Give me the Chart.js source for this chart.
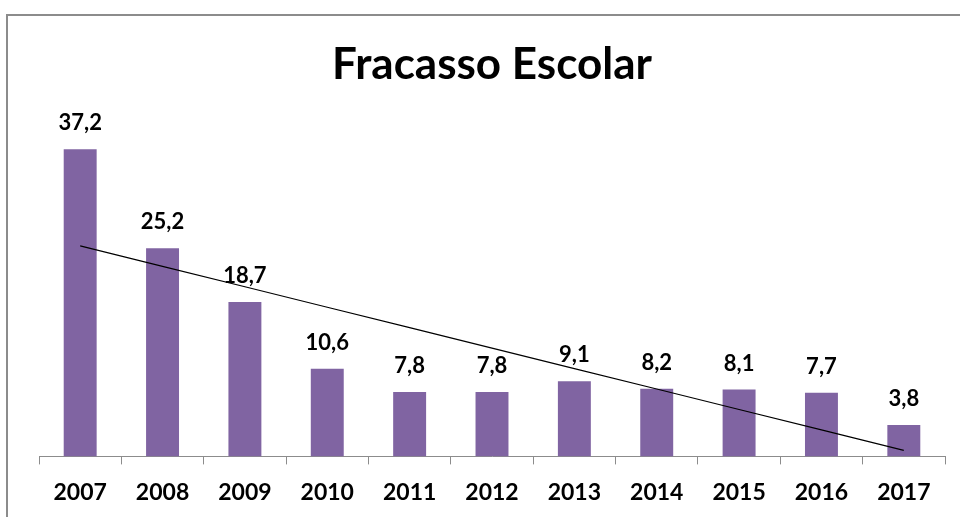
<!DOCTYPE html>
<html>
<head>
<meta charset="utf-8">
<script src="https://cdn.jsdelivr.net/npm/chart.js@4/dist/chart.umd.min.js"></script>
<style>
  html, body { margin: 0; padding: 0; background: #fff; }
  #wrap { width: 960px; height: 517px; position: relative; }
</style>
</head>
<body>
<div id="wrap"><canvas id="c" width="960" height="517"></canvas></div>
<script>
const categories = ['2007','2008','2009','2010','2011','2012','2013','2014','2015','2016','2017'];
const fracassoValues = [37.2, 25.2, 18.7, 10.6, 7.8, 7.8, 9.1, 8.2, 8.1, 7.7, 3.8];
const chartTitle = 'Fracasso Escolar';

// Linear trendline (least squares) computed from the series, as Excel does
function linearTrend(vals) {
  const n = vals.length;
  let sx = 0, sy = 0, sxy = 0, sxx = 0;
  vals.forEach((v, i) => { const x = i + 1; sx += x; sy += v; sxy += x * v; sxx += x * x; });
  const slope = (n * sxy - sx * sy) / (n * sxx - sx * sx);
  const intercept = (sy - slope * sx) / n;
  return vals.map((_, i) => intercept + slope * (i + 1));
}
const trendValues = linearTrend(fracassoValues);

const FONT = 'Lato, "Open Sans", sans-serif';

const borderPlugin = {
  id: 'outerBorder',
  beforeDraw(chart) {
    const ctx = chart.ctx;
    ctx.save();
    ctx.fillStyle = '#fff';
    ctx.fillRect(0, 0, chart.width, chart.height);
    ctx.strokeStyle = '#8c8c8c';
    ctx.lineWidth = 2;
    ctx.beginPath();
    ctx.moveTo(7, chart.height + 5);
    ctx.lineTo(7, 15);
    ctx.lineTo(chart.width + 5, 15);
    ctx.stroke();
    ctx.restore();
  }
};

const labelPlugin = {
  id: 'barLabels',
  afterDatasetsDraw(chart) {
    const meta = chart.getDatasetMeta(1);
    const ctx = chart.ctx;
    ctx.save();
    ctx.font = 'bold 22px ' + FONT;
    ctx.fillStyle = '#000';
    ctx.textAlign = 'center';
    ctx.textBaseline = 'middle';
    meta.data.forEach((bar, i) => {
      const txt = fracassoValues[i].toFixed(1).replace('.', ',');
      ctx.fillText(txt, bar.x, bar.y - 26);
    });
    ctx.restore();
  }
};

new Chart(document.getElementById('c'), {
  data: {
    labels: categories,
    datasets: [
      {
        type: 'line',
        label: 'Tendência',
        data: trendValues,
        borderColor: '#000',
        borderWidth: 1.2,
        pointRadius: 0,
        fill: false,
        tension: 0,
        order: 0
      },
      {
        type: 'bar',
        label: chartTitle,
        data: fracassoValues,
        backgroundColor: '#8064A2',
        borderWidth: 0,
        categoryPercentage: 1,
        barPercentage: 0.4,
        order: 1
      }
    ]
  },
  options: {
    responsive: false,
    animation: false,
    layout: { padding: { left: 39, right: 15, top: 20, bottom: -3 } },
    plugins: {
      legend: { display: false },
      tooltip: { enabled: false },
      title: {
        display: true,
        text: chartTitle,
        color: '#000',
        font: { family: FONT, size: 44, weight: 'bold' },
        padding: { top: 18.6, bottom: 34.6 }
      }
    },
    scales: {
      x: {
        offset: true,
        grid: {
          offset: true,
          drawOnChartArea: false,
          drawTicks: true,
          tickLength: 8,
          color: '#8c8c8c',
          lineWidth: 1
        },
        border: { display: true, color: '#8c8c8c', width: 1 },
        ticks: {
          color: '#000',
          padding: 14,
          font: { family: FONT, size: 23, weight: 'bold' },
          maxRotation: 0
        }
      },
      y: {
        display: false,
        min: 0,
        max: 40
      }
    }
  },
  plugins: [borderPlugin, labelPlugin]
});
</script>
</body>
</html>
